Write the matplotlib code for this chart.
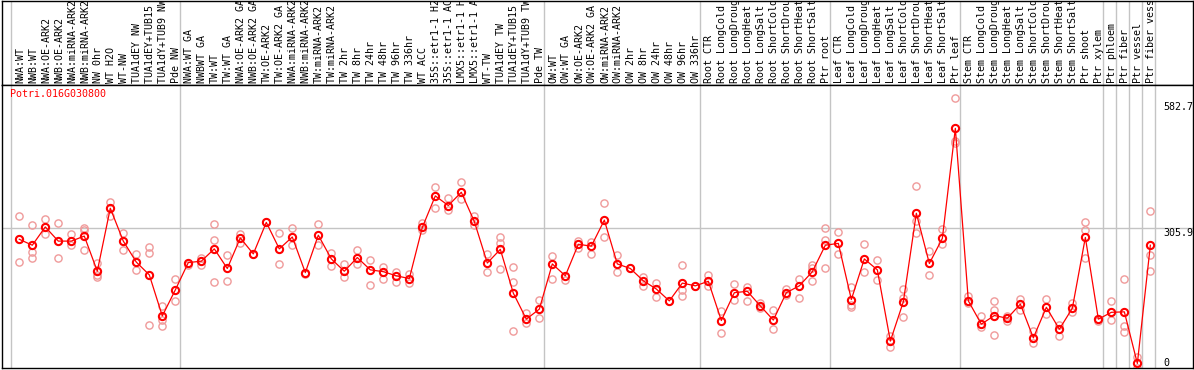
import matplotlib
matplotlib.use("Agg")
import matplotlib.pyplot as plt
import numpy as np

GENE_ID = "Potri.016G030800"

LABELS = [
    "NWA:WT", "NWB:WT", "NWA:OE-ARK2", "NWB:OE-ARK2", "NWA:miRNA-ARK2", "NWB:miRNA-ARK2",
    "NW 0hr", "WT H2O", "WT-NW", "TUA1dEY NW", "TUA1dEY+TUB15 NW", "TUA1dY+TUB9 NW", "Pde NW",
    "NWA:WT GA", "NWBWT GA", "TW:WT", "TW:WT GA", "NWA:OE-ARK2 GA", "NWB:OE-ARK2 GA",
    "TW:OE-ARK2", "TW:OE-ARK2 GA", "NWA:miRNA-ARK2 GA", "NWB:miRNA-ARK2 GA", "TW:miRNA-ARK2",
    "TW:miRNA-ARK2 GA", "TW 2hr", "TW 8hr", "TW 24hr", "TW 48hr", "TW 96hr", "TW 336hr",
    "WT ACC", "35S::etr1-1 H2O", "35S::etr1-1 ACC", "LMX5::etr1-1 H2O", "LMX5::etr1-1 ACC",
    "WT-TW", "TUA1dEY TW", "TUA1dEY+TUB15 TW", "TUA1dY+TUB9 TW", "Pde TW",
    "OW:WT", "OW:WT GA", "OW:OE-ARK2", "OW:OE-ARK2 GA", "OW:miRNA-ARK2", "OW:miRNA-ARK2 GA",
    "OW 2hr", "OW 8hr", "OW 24hr", "OW 48hr", "OW 96hr", "OW 336hr",
    "Root CTR", "Root LongCold", "Root LongDrought", "Root LongHeat", "Root LongSalt",
    "Root ShortCold", "Root ShortDrought", "Root ShortHeat", "Root ShortSalt", "Ptr root",
    "Leaf CTR", "Leaf LongCold", "Leaf LongDrought", "Leaf LongHeat", "Leaf LongSalt",
    "Leaf ShortCold", "Leaf ShortDrought", "Leaf ShortHeat", "Leaf ShortSalt", "Ptr leaf",
    "Stem CTR", "Stem LongCold", "Stem LongDrought", "Stem LongHeat", "Stem LongSalt",
    "Stem ShortCold", "Stem ShortDrought", "Stem ShortHeat", "Stem ShortSalt",
    "Ptr shoot", "Ptr xylem", "Ptr phloem", "Ptr fiber", "Ptr vessel", "Ptr fiber vessel",
]

MEANS = [
    282, 269, 309, 278, 278, 289, 212, 350, 278, 232, 204, 114, 171,
    231, 234, 261, 218, 285, 250, 319, 261, 287, 209, 291, 239, 212, 242, 215, 211, 202, 196,
    308, 377, 356, 385, 321, 230, 260, 164, 107, 129,
    228, 202, 271, 267, 324, 228, 218, 191, 173, 147, 186, 180,
    190, 104, 165, 168, 136, 105, 165, 180, 211, 269, 273,
    150, 239, 215, 59, 145, 339, 229, 284, 525,
    147, 96, 115, 109, 140, 66, 133, 85, 131, 286,
    107, 122, 123, 10, 269,
]

REPLICATES = [
    [334, 232, 282], [313, 255, 242], [327, 293], [317, 241], [294, 269], [307, 302, 258],
    [231, 204, 200], [364, 334], [295, 258], [250, 214], [266, 251, 94], [136, 105, 92], [194, 147],
    [226], [242, 226], [315, 280, 188], [248, 191], [294, 274], [250], [319],
    [295, 228], [307, 269], [206], [315, 269], [251, 224], [228, 199], [258, 228], [237, 181],
    [222, 196], [211, 189], [207, 187],
    [318, 302], [397, 350], [372, 346], [407, 371], [334, 313], [250, 210], [287, 274, 216],
    [221, 188, 80], [120, 98], [149, 109],
    [245, 196], [193], [279, 263], [277, 250], [361, 286], [248, 210], [218],
    [200, 180], [187, 156], [147], [226, 171, 158], [180], [203, 180],
    [125, 77], [183, 149], [177, 147], [142, 131], [127, 85], [172, 160], [195, 153],
    [226, 218, 190], [307, 281, 218], [299, 250],
    [178, 138, 134], [272, 210], [237, 193], [70, 45], [173, 153, 111], [398, 322, 295],
    [256, 203], [304, 272], [591, 498, 492],
    [158, 142], [114, 89], [147, 127, 72], [114, 104], [151, 126], [82, 55], [151, 118],
    [94, 71], [142, 123], [320, 302, 240],
    [102], [147, 105], [196, 92, 79], [25, 0], [343, 248, 212],
]

# first column of each tissue / experiment block
GROUP_STARTS = [0, 13, 41, 53, 63, 73, 84, 85, 86, 87, 88]

Y_TOP_LABEL = 582.7
Y_MID_LABEL = 305.9
Y_MAX = 620

FIG_W, FIG_H = 1194, 370
FONT = "DejaVu Sans Mono"
FONT_SIZE = 7.2
GRID_COLOR = "#c4c4c4"
REP_COLOR = "#ef9a9a"
MEAN_COLOR = "#ff0000"


def px_box(x0, y0, x1, y1):
    return [x0 / FIG_W, 1 - y1 / FIG_H, (x1 - x0) / FIG_W, (y1 - y0) / FIG_H]


def style_box(ax):
    ax.set_xticks([])
    ax.set_yticks([])
    for spine in ax.spines.values():
        spine.set_color("black")
        spine.set_linewidth(1.0)


def main() -> None:
    fig = plt.figure(figsize=(FIG_W / 100, FIG_H / 100), dpi=100)
    ax_top = fig.add_axes(px_box(2, 0.5, 1193, 85))
    ax = fig.add_axes(px_box(2, 85, 1193, 368), sharex=ax_top)

    x = np.arange(len(LABELS))
    ax.set_xlim(-1.33, 90.28)
    ax.set_ylim(0, Y_MAX)
    ax_top.set_ylim(0, 85)

    for g in GROUP_STARTS:
        for a in (ax, ax_top):
            a.axvline(g - 0.62, color=GRID_COLOR, linewidth=1.0, zorder=0)
    ax.axhline(Y_MID_LABEL, color=GRID_COLOR, linewidth=1.0, zorder=0)

    for i, reps in enumerate(REPLICATES):
        ax.plot([x[i]] * len(reps), reps, linestyle="none", marker="o", markersize=5.2,
                markerfacecolor="none", markeredgecolor=REP_COLOR, markeredgewidth=1.0, zorder=2)
    ax.plot(x, MEANS, color=MEAN_COLOR, linewidth=0.9, zorder=3)
    ax.plot(x, MEANS, linestyle="none", marker="o", markersize=5.2, markerfacecolor="none",
            markeredgecolor=MEAN_COLOR, markeredgewidth=1.5, zorder=4)

    for i, label in enumerate(LABELS):
        ax_top.text(x[i] + 0.05, 2, label, rotation=90, ha="center", va="bottom",
                    family=FONT, fontsize=FONT_SIZE, clip_on=True)

    ax.text(0.0067, 0.985, GENE_ID, transform=ax.transAxes, ha="left", va="top",
            family=FONT, fontsize=FONT_SIZE, color=MEAN_COLOR)

    xr = 0.9748
    trans = ax.get_yaxis_transform()
    ax.text(xr, Y_TOP_LABEL, f"{Y_TOP_LABEL}", transform=trans, ha="left", va="top",
            family=FONT, fontsize=FONT_SIZE)
    ax.text(xr, Y_MID_LABEL, f"{Y_MID_LABEL}", transform=trans, ha="left", va="top",
            family=FONT, fontsize=FONT_SIZE)
    ax.text(xr, 0, "0", transform=trans, ha="left", va="bottom",
            family=FONT, fontsize=FONT_SIZE)

    style_box(ax)
    style_box(ax_top)
    fig.savefig("out.png", dpi=100)
    plt.close(fig)


if __name__ == "__main__":
    main()
